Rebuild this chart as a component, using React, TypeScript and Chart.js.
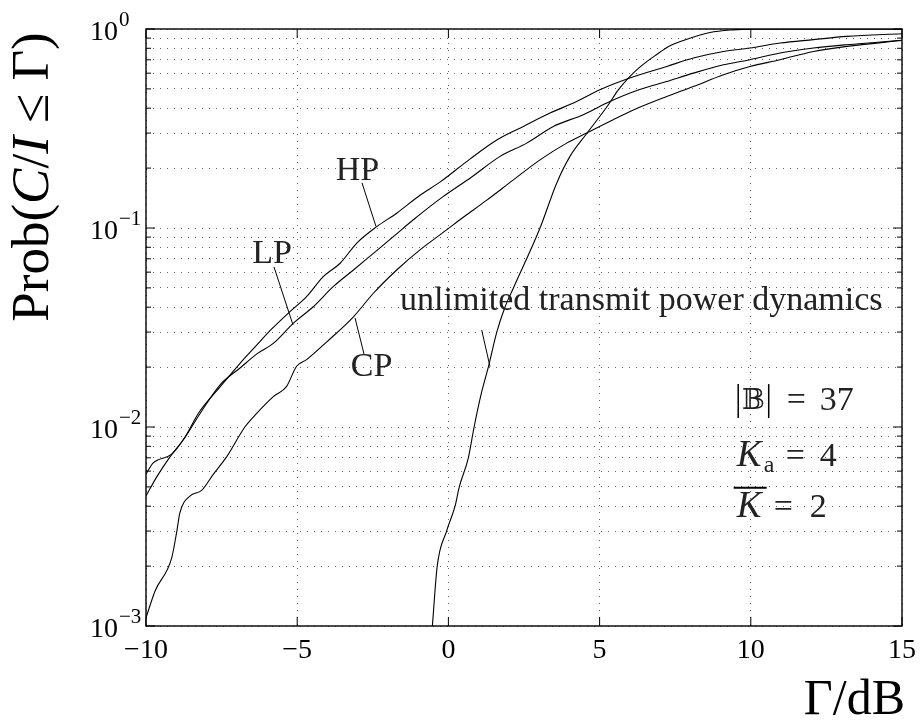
import React, { useEffect, useRef } from "react";
import { Chart, registerables } from "chart.js";

Chart.register(...registerables);

// ---- data ----
const hpX = [-10, -9.76, -9.15, -8.71, -8.27, -7.55, -6.89, -6.4, -5.85, -5.24, -4.69, -4.14, -3.58, -3.03, -2.37, -1.71, -0.94, -0.28, 0.71, 1.6, 2.48, 3.36, 4.24, 5.01, 6.0, 7.22, 8.1, 9.1, 9.97, 10.97, 12.07, 13.17, 15];
const hpY = [0.0058, 0.0066, 0.0073, 0.0089, 0.0117, 0.0159, 0.0209, 0.0252, 0.031, 0.038, 0.0452, 0.057, 0.0665, 0.084, 0.1016, 0.1187, 0.146, 0.17, 0.222, 0.277, 0.324, 0.378, 0.432, 0.495, 0.567, 0.648, 0.715, 0.771, 0.802, 0.85, 0.884, 0.918, 0.947];

const lpX = [-10, -9.65, -9.2, -8.77, -8.21, -7.55, -6.89, -6.3, -5.79, -5.13, -4.47, -3.81, -3.14, -2.48, -1.82, -1.16, -0.2, 0.76, 1.71, 2.59, 3.47, 4.46, 5.34, 6.3, 7.22, 8.1, 9.1, 9.97, 10.97, 12.07, 13.17, 15];
const lpY = [0.0045, 0.0056, 0.0071, 0.0086, 0.0117, 0.0163, 0.0198, 0.0235, 0.0263, 0.0332, 0.0402, 0.0507, 0.0615, 0.0746, 0.0905, 0.11, 0.143, 0.18, 0.229, 0.267, 0.324, 0.371, 0.432, 0.495, 0.545, 0.6, 0.661, 0.701, 0.757, 0.802, 0.834, 0.878];

const cpX = [-10, -9.7, -9.15, -8.98, -8.88, -8.55, -8.16, -7.77, -7.33, -6.73, -6.34, -5.79, -5.35, -5.02, -4.69, -4.02, -3.14, -2.48, -1.71, -0.94, -0.06, 0.38, 1.27, 2.15, 3.03, 3.91, 4.57, 5.45, 6.34, 7.22, 8.1, 9.1, 9.97, 10.97, 12.07, 13.17, 15];
const cpY = [0.0011, 0.0015, 0.0022, 0.003, 0.0037, 0.0045, 0.0048, 0.0058, 0.0071, 0.01, 0.0117, 0.0142, 0.016, 0.0202, 0.0218, 0.0268, 0.0358, 0.047, 0.0615, 0.0776, 0.0978, 0.11, 0.138, 0.1746, 0.22, 0.267, 0.3, 0.35, 0.405, 0.458, 0.514, 0.589, 0.648, 0.701, 0.771, 0.818, 0.875];

const unX = [-0.53, -0.37, -0.06, 0.22, 0.36, 0.66, 0.85, 1.1, 1.32, 1.6, 1.87, 2.15, 3.03, 3.58, 4.02, 4.55, 5.29, 5.6, 5.95, 6.34, 6.89, 7.3, 7.77, 8.65, 9.4, 10.0, 15];
const unY = [0.001, 0.002, 0.003, 0.004, 0.005, 0.007, 0.01, 0.015, 0.02, 0.03, 0.04, 0.05, 0.1, 0.168, 0.229, 0.295, 0.416, 0.49, 0.567, 0.645, 0.745, 0.82, 0.876, 0.96, 0.99, 0.999, 0.999];

const xTickValues = [-10, -5, 0, 5, 10, 15];
const xTickLabels = ["\u221210", "\u22125", "0", "5", "10", "15"];
const yDecades = [0, -1, -2, -3];
const yExpLabels = ["0", "\u22121", "\u22122", "\u22123"];

// curve labels with leader lines (data coordinates)
const curveLabels = ["HP", "LP", "CP", "unlimited transmit power dynamics"];
const labelX = [-3.01, -5.833, -2.543, -1.601];
const labelY = [0.1746, 0.0668, 0.01803, 0.0387];
const labelAlign = ["center", "center", "center", "left"];
const leaderX1 = [-2.857, -5.767, -3.088, 1.101];
const leaderY1 = [0.1686, 0.0637, 0.0353, 0.0307];
const leaderX2 = [-2.394, -5.139, -2.79, 1.376];
const leaderY2 = [0.1017, 0.0326, 0.02326, 0.0201];

// parameter block
const paramX = 9.534;
const paramY = [0.01216, 0.00636, 0.003535];
const paramB = 37;
const paramKa = 4;
const paramKbar = 2;

const SERIF = '"Liberation Serif", "Times New Roman", serif';

const toPts = (xs: number[], ys: number[]) => xs.map((x, i) => ({ x, y: ys[i] }));

const overlayPlugin = {
  id: "overlay",
  afterDraw(chart: any) {
    const { ctx, chartArea: a, scales } = chart;
    const xs = scales.x;
    const ys = scales.y;
    const line = (x1: number, y1: number, x2: number, y2: number) => {
      ctx.beginPath();
      ctx.moveTo(x1, y1);
      ctx.lineTo(x2, y2);
      ctx.stroke();
    };
    ctx.save();
    ctx.strokeStyle = "#000";
    ctx.fillStyle = "#000";

    // box
    ctx.lineWidth = 1.4;
    ctx.strokeRect(a.left, a.top, a.right - a.left, a.bottom - a.top);

    // ticks
    ctx.lineWidth = 1;
    xTickValues.forEach((v) => {
      const p = xs.getPixelForValue(v);
      line(p, a.bottom, p, a.bottom - 9);
      line(p, a.top, p, a.top + 9);
    });
    yDecades.forEach((d) => {
      const p = ys.getPixelForValue(Math.pow(10, d));
      line(a.left, p, a.left + 9, p);
      line(a.right, p, a.right - 9, p);
      if (d > -3) {
        for (let k = 2; k <= 9; k++) {
          const q = ys.getPixelForValue(k * Math.pow(10, d - 1));
          line(a.left, q, a.left + 5, q);
          line(a.right, q, a.right - 5, q);
        }
      }
    });

    // x tick labels
    ctx.font = `28px ${SERIF}`;
    ctx.textAlign = "center";
    ctx.textBaseline = "alphabetic";
    xTickValues.forEach((v, i) => {
      const p = xs.getPixelForValue(v);
      ctx.fillText(xTickLabels[i], p, a.bottom + 32);
    });

    // y tick labels 10^d
    yDecades.forEach((d, i) => {
      const p = ys.getPixelForValue(Math.pow(10, d));
      ctx.textAlign = "left";
      ctx.font = `28px ${SERIF}`;
      const bx = 90;
      ctx.fillText("10", bx, p + 10.5);
      const w = ctx.measureText("10").width;
      ctx.font = `21px ${SERIF}`;
      ctx.fillText(yExpLabels[i], bx + w + 1, p - 3);
    });

    // x axis title  Γ/dB
    ctx.font = `50px ${SERIF}`;
    ctx.textAlign = "right";
    ctx.fillText("\u0393/dB", 905, 714);

    // y axis title Prob(C/I ≤ Γ)
    ctx.save();
    ctx.translate(48, 177);
    ctx.rotate(-Math.PI / 2);
    const parts: [string, boolean][] = [
      ["Prob(", false],
      ["C", true],
      ["/", false],
      ["I", true],
      ["\u2005\u2264\u2005", false],
      ["\u0393)", false],
    ];
    const fs = 53;
    let total = 0;
    parts.forEach(([t, it]) => {
      ctx.font = `${it ? "italic " : ""}${fs}px ${SERIF}`;
      total += ctx.measureText(t).width;
    });
    let cx = -total / 2;
    ctx.textAlign = "left";
    parts.forEach(([t, it]) => {
      ctx.font = `${it ? "italic " : ""}${fs}px ${SERIF}`;
      ctx.fillText(t, cx, 0);
      cx += ctx.measureText(t).width;
    });
    ctx.restore();

    // curve labels and leaders
    ctx.font = `34px ${SERIF}`;
    ctx.fillStyle = "#222";
    curveLabels.forEach((t, i) => {
      ctx.textAlign = labelAlign[i] as CanvasTextAlign;
      ctx.fillText(t, xs.getPixelForValue(labelX[i]), ys.getPixelForValue(labelY[i]));
      ctx.lineWidth = 1;
      line(
        xs.getPixelForValue(leaderX1[i]),
        ys.getPixelForValue(leaderY1[i]),
        xs.getPixelForValue(leaderX2[i]),
        ys.getPixelForValue(leaderY2[i])
      );
    });

    // parameter block
    const px0 = xs.getPixelForValue(paramX);
    ctx.textAlign = "left";
    // |B| = 37
    let yb = ys.getPixelForValue(paramY[0]);
    ctx.lineWidth = 1.5;
    line(px0 + 1.5, yb - 26, px0 + 1.5, yb + 8);
    line(px0 + 32, yb - 26, px0 + 32, yb + 8);
    ctx.font = `27px "DejaVu Serif", "DejaVu Sans", ${SERIF}`;
    const bw = ctx.measureText("\uD835\uDD39").width;
    ctx.fillText("\uD835\uDD39", px0 + 16.75 - bw / 2, yb - 1);
    ctx.font = `34px ${SERIF}`;
    ctx.fillText("=", px0 + 50, yb);
    ctx.fillText(String(paramB), px0 + 83, yb);

    // K_a = 4
    yb = ys.getPixelForValue(paramY[1]);
    ctx.font = `italic 37px ${SERIF}`;
    ctx.fillText("K", px0, yb);
    ctx.font = `24px ${SERIF}`;
    ctx.fillText("a", px0 + 27, yb + 6);
    ctx.font = `34px ${SERIF}`;
    ctx.fillText("=", px0 + 49, yb);
    ctx.fillText(String(paramKa), px0 + 83, yb);

    // Kbar = 2
    yb = ys.getPixelForValue(paramY[2]);
    ctx.font = `italic 37px ${SERIF}`;
    ctx.fillText("K", px0, yb);
    ctx.lineWidth = 2;
    line(px0 - 3, yb - 29, px0 + 30, yb - 29);
    ctx.font = `34px ${SERIF}`;
    ctx.fillText("=", px0 + 37, yb);
    ctx.fillText(String(paramKbar), px0 + 73, yb);

    ctx.restore();
  },
};

export default function App() {
  const ref = useRef<HTMLCanvasElement | null>(null);
  useEffect(() => {
    if (!ref.current) return;
    const lineDs = (label: string, xs: number[], ys: number[]) => ({
      label,
      data: toPts(xs, ys),
      borderColor: "#000",
      borderWidth: 1.1,
      pointRadius: 0,
      fill: false,
      cubicInterpolationMode: "monotone",
    });
    const chart = new Chart(ref.current, {
      type: "line",
      data: {
        datasets: [
          lineDs("HP", hpX, hpY),
          lineDs("LP", lpX, lpY),
          lineDs("CP", cpX, cpY),
          lineDs("unlimited", unX, unY),
        ],
      },
      options: {
        responsive: false,
        animation: false,
        events: [],
        layout: { padding: { left: 146, top: 29, right: 18, bottom: 100 } },
        plugins: { legend: { display: false }, tooltip: { enabled: false } },
        scales: {
          x: {
            type: "linear",
            min: -10,
            max: 15,
            afterBuildTicks: (s: any) => {
              s.ticks = xTickValues.map((v) => ({ value: v }));
            },
            ticks: { display: false },
            grid: { color: "#666", lineWidth: 1, drawTicks: false },
            border: { display: false, dash: [1, 6] },
          },
          y: {
            type: "logarithmic",
            min: 0.001,
            max: 1,
            afterBuildTicks: (s: any) => {
              const t: { value: number }[] = [];
              for (let d = -3; d < 0; d++) {
                for (let k = 1; k <= 9; k++) t.push({ value: k * Math.pow(10, d) });
              }
              t.push({ value: 1 });
              s.ticks = t;
            },
            ticks: { display: false },
            grid: { color: "#666", lineWidth: 1, drawTicks: false },
            border: { display: false, dash: [1, 6] },
          },
        },
      },
      plugins: [overlayPlugin],
    } as any);
    return () => chart.destroy();
  }, []);
  return (
    <div style={{ position: "absolute", left: 0, top: 0, width: 920, height: 726, background: "#fff" }}>
      <canvas ref={ref} width={920} height={726} style={{ width: 920, height: 726, display: "block" }} />
    </div>
  );
}
